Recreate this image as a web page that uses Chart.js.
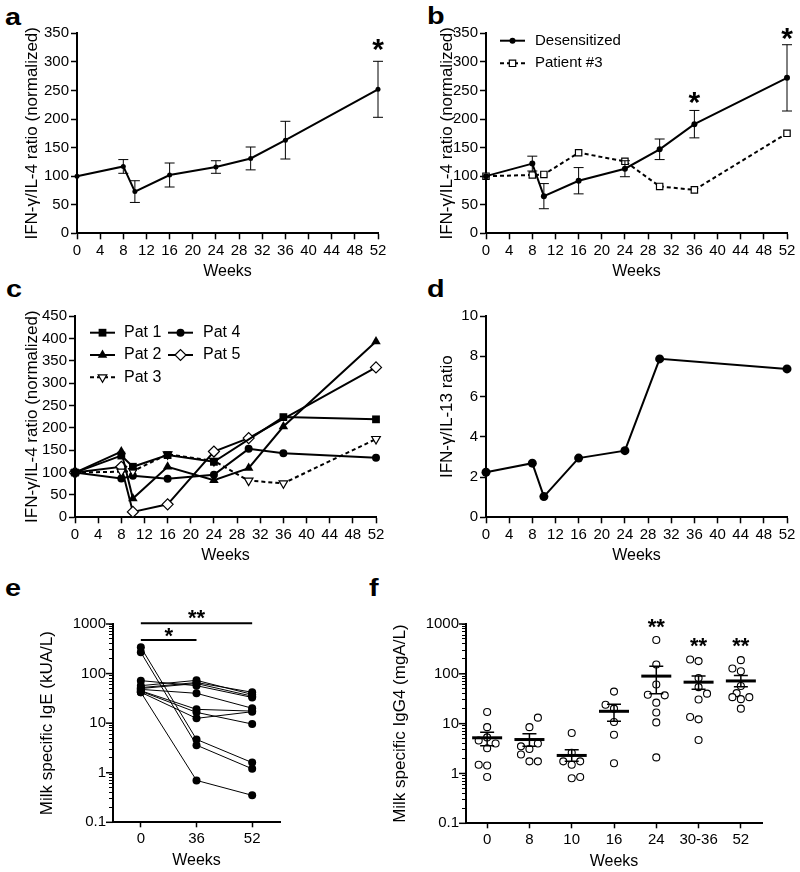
<!DOCTYPE html>
<html>
<head>
<meta charset="utf-8">
<script src="https://cdn.jsdelivr.net/npm/chart.js@4.4.1/dist/chart.umd.min.js"></script>
<style>
body{margin:0;background:#fff;width:800px;height:872px;position:relative;overflow:hidden;font-family:"Liberation Sans",Arial,sans-serif}
canvas{position:absolute}
.lt{position:absolute;font-weight:bold;font-size:24px;line-height:24px;transform:scaleX(1.2);transform-origin:left top}
</style>
</head>
<body>
<div class="lt" style="left:5px;top:5px">a</div>
<div class="lt" style="left:427px;top:4px">b</div>
<div class="lt" style="left:6px;top:277px">c</div>
<div class="lt" style="left:427px;top:277px">d</div>
<div class="lt" style="left:5px;top:576px">e</div>
<div class="lt" style="left:369px;top:576px">f</div>

<canvas id="ca" width="400" height="290" style="left:0;top:0"></canvas>
<canvas id="cb" width="400" height="290" style="left:400px;top:0"></canvas>
<canvas id="cc" width="400" height="300" style="left:0;top:290px"></canvas>
<canvas id="cd" width="400" height="300" style="left:400px;top:290px"></canvas>
<canvas id="ce" width="380" height="282" style="left:0;top:590px"></canvas>
<canvas id="cf" width="420" height="282" style="left:380px;top:590px"></canvas>

<script>
// weeks used in a, b, c
const weeks = [0, 8, 10, 16, 24, 30, 36, 52];
const ratioA = [100, 117, 73, 102, 116, 131, 163, 252];
const errA = [0, 12, 19, 21, 11, 20, 33, 49];
const ratioB = [100, 122, 65, 92, 113, 147, 191, 272];
const errB = [0, 13, 22, 23, 14, 18, 24, 58];
const patient3 = [100, 102, 103, 141, 126, 82, 76, 175];

// panel c, one row per patient (null = not measured)
const pat1 = [100, 138, 113, 139, 124, null, 224, 219];
const pat2 = [100, 147, 42, 113, 83, 110, 203, 393];
const pat4 = [100, 87, 93, 86, 95, 153, 143, 133];
const pat5 = [100, 113, 12, 29, 147, 177, null, 335];

// panel d
const weeksD = [0, 8, 10, 16, 24, 30, 52];
const ratioD = [2.24, 2.69, 1.03, 2.94, 3.31, 7.87, 7.37];

// panel e
const weeksE = ['0', '36', '52'];
const igE = [
  [340, 4.7, 1.6],
  [268, 3.6, 1.2],
  [42, 0.7, 0.35],
  [72, 57, 33],
  [57, 73, 38],
  [52, 66, 42],
  [50, 63, 35],
  [48, 40, 20],
  [45, 19, 17.5],
  [44, 16.5, 9.6],
  [42, 12.5, 17]
];
const sigFrom = [0, 0];
const sigTo = [1, 2];
const sigLevel = [475, 1030];

// panel f
const groupsF = ['0', '8', '10', '16', '24', '30-36', '52'];
const igG4 = [
  [17.1, 8.5, 4.6, 5.3, 4.0, 3.2, 1.5, 1.45, 0.85],
  [13.2, 8.5, 3.5, 4.0, 3.1, 2.4, 1.75, 1.75],
  [6.5, 2.6, 1.75, 1.5, 1.75, 0.8, 0.85],
  [44, 24, 20, 10.8, 6.0, 1.6],
  [476, 154, 61, 38, 37, 26.4, 16.7, 10.6, 2.1],
  [194, 180, 82, 54, 40, 30.5, 13.6, 12.2, 4.7],
  [188, 128, 113, 57, 41, 34, 31, 34, 20]
];
const jitterF = [
  [0, 0, -0.2, 0, 0.2, 0, -0.2, 0, 0],
  [0.2, 0, -0.2, 0.2, 0, -0.2, 0, 0.2],
  [0, 0, -0.2, 0, 0.2, 0, 0.2],
  [0, -0.2, 0, 0, 0, 0],
  [0, 0, 0, -0.2, 0.2, 0, 0, 0, 0],
  [-0.2, 0, 0, 0, 0.2, 0, -0.2, 0, 0],
  [0, -0.2, 0, 0, -0.1, -0.2, 0, 0.2, 0]
];
const meanF = [5.2, 4.8, 2.3, 17.7, 90, 68, 72];
const semLoF = [3.6, 3.5, 1.75, 11.2, 40, 49, 55];
const semHiF = [6.7, 6.3, 3.0, 24.5, 142, 90, 93];

const FONT = '"Liberation Sans", Arial, Helvetica, sans-serif';
Chart.defaults.font.family = FONT;
Chart.defaults.color = '#000';

const titleIL4 = 'IFN-\u03b3/IL-4 ratio (normalized)';

// log ticks 0.1 .. 1000
const logTicks = [];
[-1, 0, 1, 2].forEach(e => {
  for (let k = 1; k < 10; k++) logTicks.push(+(k * Math.pow(10, e)).toFixed(Math.max(0, -e)));
});
logTicks.push(1000);
const isDecade = v => Math.abs(Math.log10(v) - Math.round(Math.log10(v))) < 1e-9;

const axisBorder = {color: '#000', width: 2};

function xWeeks(h) {
  return {
    type: 'linear', min: 0, max: 52,
    border: axisBorder,
    grid: {drawOnChartArea: false, tickLength: 6, tickWidth: 1.5, tickColor: '#000'},
    ticks: {stepSize: 4, autoSkip: false, maxRotation: 0, padding: 3, font: {size: 15}},
    title: {display: true, text: 'Weeks', font: {size: 16}, padding: 0},
    afterFit: s => { s.height = h; }
  };
}

function yLinear(max, step, title, w, tp) {
  return {
    type: 'linear', min: 0, max: max,
    border: axisBorder,
    grid: {drawOnChartArea: false, tickLength: 6, tickWidth: 1.5, tickColor: '#000'},
    ticks: {stepSize: step, padding: 2, font: {size: 15}},
    title: {display: true, text: title, font: {size: 17}, padding: {top: tp, bottom: 0}},
    afterFit: s => { s.width = w; }
  };
}

function yLog(title, w, tp) {
  return {
    type: 'logarithmic', min: 0.1, max: 1000,
    border: axisBorder,
    grid: {drawOnChartArea: false, tickLength: 4, tickWidth: 1, tickColor: '#000'},
    ticks: {autoSkip: false, padding: 3, font: {size: 15}, callback: v => isDecade(v) ? String(v) : ''},
    afterBuildTicks: s => { s.ticks = logTicks.map(v => ({value: v})); },
    title: {display: true, text: title, font: {size: 17}, padding: {top: tp, bottom: 0}},
    afterFit: s => { s.width = w; }
  };
}

function base(pad, x, y) {
  return {
    responsive: false,
    animation: false,
    events: [],
    layout: {padding: Object.assign({left: 0}, pad)},
    plugins: {legend: {display: false}, tooltip: {enabled: false}},
    scales: {x: x, y: y}
  };
}

const pts = (xs, ys) => xs.map((w, i) => ({x: w, y: ys[i]}));

// error bars drawn from errLo / errHi on a dataset
const errorBars = {
  id: 'errorBars',
  afterDatasetsDraw(chart) {
    const ctx = chart.ctx;
    const ys = chart.scales.y;
    chart.data.datasets.forEach((ds, di) => {
      if (!ds.errLo) return;
      const meta = chart.getDatasetMeta(di);
      ctx.save();
      ctx.strokeStyle = '#000';
      ctx.lineWidth = ds.errWidth || 1;
      meta.data.forEach((pt, i) => {
        const lo = ds.errLo[i], hi = ds.errHi[i];
        if (lo == null || lo === hi) return;
        const yl = ys.getPixelForValue(lo), yh = ys.getPixelForValue(hi);
        const c = ds.capHalf;
        ctx.beginPath();
        ctx.moveTo(pt.x, yl); ctx.lineTo(pt.x, yh);
        ctx.moveTo(pt.x - c, yl); ctx.lineTo(pt.x + c, yl);
        ctx.moveTo(pt.x - c, yh); ctx.lineTo(pt.x + c, yh);
        ctx.stroke();
      });
      ctx.restore();
    });
  }
};

// longer ticks at the decades of a log axis
const decadeTicks = {
  id: 'decadeTicks',
  afterDraw(chart) {
    const {ctx, scales} = chart;
    ctx.save();
    ctx.strokeStyle = '#000';
    ctx.lineWidth = 1.5;
    logTicks.filter(isDecade).forEach(v => {
      const y = scales.y.getPixelForValue(v);
      ctx.beginPath();
      ctx.moveTo(scales.y.right - 7, y);
      ctx.lineTo(scales.y.right, y);
      ctx.stroke();
    });
    ctx.restore();
  }
};

function starPlugin(xs, levels, texts, size) {
  return {
    id: 'stars',
    afterDraw(chart) {
      const {ctx, scales} = chart;
      ctx.save();
      ctx.fillStyle = '#000';
      ctx.font = 'bold ' + size + 'px ' + FONT;
      ctx.textAlign = 'center';
      ctx.textBaseline = 'alphabetic';
      xs.forEach((v, i) => {
        ctx.fillText(texts[i], scales.x.getPixelForValue(v), scales.y.getPixelForValue(levels[i]) + size * 0.41);
      });
      ctx.restore();
    }
  };
}

function keyPlugin(entries, size) {
  return {
    id: 'key',
    afterDraw(chart) {
      const ctx = chart.ctx;
      entries.forEach(en => {
        const ds = chart.data.datasets[en.ds];
        ctx.save();
        ctx.strokeStyle = '#000';
        ctx.lineWidth = ds.borderWidth;
        ctx.setLineDash(ds.borderDash || []);
        ctx.beginPath(); ctx.moveTo(en.x0, en.y); ctx.lineTo(en.x1, en.y); ctx.stroke();
        ctx.setLineDash([]);
        ctx.fillStyle = ds.pointBackgroundColor;
        ctx.lineWidth = ds.pointBorderWidth;
        const o = {pointStyle: ds.pointStyle || 'circle', rotation: ds.pointRotation || 0, radius: ds.pointRadius, borderWidth: ds.pointBorderWidth};
        const cx = (en.x0 + en.x1) / 2;
        if (Chart.helpers && Chart.helpers.drawPoint) {
          Chart.helpers.drawPoint(ctx, o, cx, en.y);
        } else {
          ctx.beginPath(); ctx.arc(cx, en.y, ds.pointRadius, 0, Math.PI * 2); ctx.fill();
          if (ds.pointBorderWidth) ctx.stroke();
        }
        ctx.fillStyle = '#000';
        ctx.font = size + 'px ' + FONT;
        ctx.textAlign = 'left';
        ctx.textBaseline = 'middle';
        ctx.fillText(ds.label, en.tx, en.y);
        ctx.restore();
      });
    }
  };
}

// a
new Chart(document.getElementById('ca'), {
  type: 'line',
  data: {datasets: [{
    data: pts(weeks, ratioA),
    errLo: ratioA.map((v, i) => v - errA[i]),
    errHi: ratioA.map((v, i) => v + errA[i]),
    capHalf: 5,
    borderColor: '#000', borderWidth: 2,
    pointRadius: 2.5, pointBackgroundColor: '#000', pointBorderWidth: 0, clip: false
  }]},
  options: base({top: 33.3, right: 22, bottom: 8.4}, xWeeks(48.3), yLinear(350, 50, titleIL4, 77, 21.8)),
  plugins: [errorBars, starPlugin([52], [327], ['*'], 30)]
});

// b
new Chart(document.getElementById('cb'), {
  type: 'line',
  data: {datasets: [{
    label: 'Desensitized',
    data: pts(weeks, ratioB),
    errLo: ratioB.map((v, i) => v - errB[i]),
    errHi: ratioB.map((v, i) => v + errB[i]),
    capHalf: 5,
    borderColor: '#000', borderWidth: 2,
    pointRadius: 3, pointBackgroundColor: '#000', pointBorderWidth: 0, clip: false
  }, {
    label: 'Patient #3',
    data: pts(weeks, patient3),
    borderColor: '#000', borderWidth: 2, borderDash: [4, 3],
    pointStyle: 'rect', pointRadius: 4.5, pointBackgroundColor: '#fff', pointBorderColor: '#000', pointBorderWidth: 1.2, clip: false
  }]},
  options: base({top: 33.3, right: 13, bottom: 8.4}, xWeeks(48.3), yLinear(350, 50, titleIL4, 86, 36.8)),
  plugins: [errorBars, starPlugin([36, 52], [234, 345], ['*', '*'], 30),
    keyPlugin([{ds: 0, x0: 100, x1: 125, tx: 135, y: 40.7}, {ds: 1, x0: 100, x1: 125, tx: 135, y: 63.3}], 15)]
});

// c
function patSet(label, vals, style, fill, extra) {
  return Object.assign({
    label: label,
    data: pts(weeks, vals),
    spanGaps: true,
    borderColor: '#000', borderWidth: 2,
    pointStyle: style, pointRadius: 5.5,
    pointBackgroundColor: fill, pointBorderColor: '#000', pointBorderWidth: fill === '#000' ? 0 : 1.2,
    clip: false
  }, extra || {});
}
new Chart(document.getElementById('cc'), {
  type: 'line',
  data: {datasets: [
    patSet('Pat 1', pat1, 'rect', '#000'),
    patSet('Pat 2', pat2, 'triangle', '#000'),
    patSet('Pat 3', patient3, 'triangle', '#fff', {pointRotation: 180, borderDash: [4, 3], pointRadius: 5}),
    patSet('Pat 4', pat4, 'circle', '#000', {pointRadius: 4}),
    patSet('Pat 5', pat5, 'rectRot', '#fff')
  ]},
  options: base({top: 26, right: 24, bottom: 24.7}, xWeeks(48), yLinear(450, 50, titleIL4, 75, 21.8)),
  plugins: [keyPlugin([
    {ds: 0, x0: 90, x1: 115, tx: 124, y: 42.7},
    {ds: 1, x0: 90, x1: 115, tx: 124, y: 65},
    {ds: 2, x0: 90, x1: 115, tx: 124, y: 87.3},
    {ds: 3, x0: 168, x1: 193, tx: 203, y: 42.7},
    {ds: 4, x0: 168, x1: 193, tx: 203, y: 65}
  ], 16)]
});

// d
new Chart(document.getElementById('cd'), {
  type: 'line',
  data: {datasets: [{
    data: pts(weeksD, ratioD),
    borderColor: '#000', borderWidth: 2,
    pointRadius: 4.5, pointBackgroundColor: '#000', pointBorderWidth: 0, clip: false
  }]},
  options: base({top: 26, right: 13, bottom: 24.7}, xWeeks(48), yLinear(10, 2, 'IFN-\u03b3/IL-13 ratio', 86, 36.8))
});

// e
const sigBars = {
  id: 'sigBars',
  afterDraw(chart) {
    const {ctx, scales} = chart;
    ctx.save();
    ctx.strokeStyle = '#000';
    ctx.lineWidth = 2;
    sigFrom.forEach((f, i) => {
      const y = scales.y.getPixelForValue(sigLevel[i]);
      ctx.beginPath();
      ctx.moveTo(scales.x.getPixelForValue(f), y);
      ctx.lineTo(scales.x.getPixelForValue(sigTo[i]), y);
      ctx.stroke();
    });
    ctx.restore();
  }
};
const xE = {
  type: 'category', offset: true,
  border: axisBorder,
  grid: {drawOnChartArea: false, tickLength: 5, tickWidth: 1.5, tickColor: '#000'},
  ticks: {padding: 3, font: {size: 15}},
  title: {display: true, text: 'Weeks', font: {size: 16}, padding: 0},
  afterFit: s => { s.height = 48; }
};
new Chart(document.getElementById('ce'), {
  type: 'line',
  data: {labels: weeksE, datasets: igE.map(p => ({
    data: p,
    borderColor: '#000', borderWidth: 1,
    pointRadius: 4, pointBackgroundColor: '#000', pointBorderWidth: 0, clip: false
  }))},
  options: base({top: 34, right: 100, bottom: 1.7}, xE, yLog('Milk specific IgE (kUA/L)', 113, 36.8)),
  plugins: [sigBars, decadeTicks, starPlugin([0.5, 1], [623, 1450], ['*', '**'], 22)]
});

// f
const xF = {
  type: 'linear', min: -0.5, max: 6.5,
  border: axisBorder,
  grid: {drawOnChartArea: false, tickLength: 5, tickWidth: 1.5, tickColor: '#000'},
  afterBuildTicks: s => { s.ticks = groupsF.map((g, i) => ({value: i})); },
  ticks: {autoSkip: false, maxRotation: 0, padding: 3, font: {size: 15}, callback: v => groupsF[v]},
  title: {display: true, text: 'Weeks', font: {size: 16}, padding: 0},
  afterFit: s => { s.height = 48; }
};
new Chart(document.getElementById('cf'), {
  type: 'scatter',
  data: {datasets: [{
    data: meanF.map((m, i) => ({x: i, y: m})),
    errLo: semLoF, errHi: semHiF, capHalf: 7, errWidth: 1.5,
    pointStyle: 'line', pointRadius: 15, pointBorderColor: '#000', pointBorderWidth: 3, clip: false
  }, {
    data: igG4.flatMap((g, gi) => g.map((v, k) => ({x: gi + jitterF[gi][k], y: v}))),
    pointRadius: 3.5, pointBackgroundColor: '#fff', pointBorderColor: '#000', pointBorderWidth: 1.1, clip: false
  }]},
  options: base({top: 34, right: 38, bottom: 0.7}, xF, yLog('Milk specific IgG4 (mgA/L)', 86, 9.8)),
  plugins: [errorBars, decadeTicks, starPlugin([4, 5, 6], [955, 395, 395], ['**', '**', '**'], 22)]
});
</script>
</body>
</html>
